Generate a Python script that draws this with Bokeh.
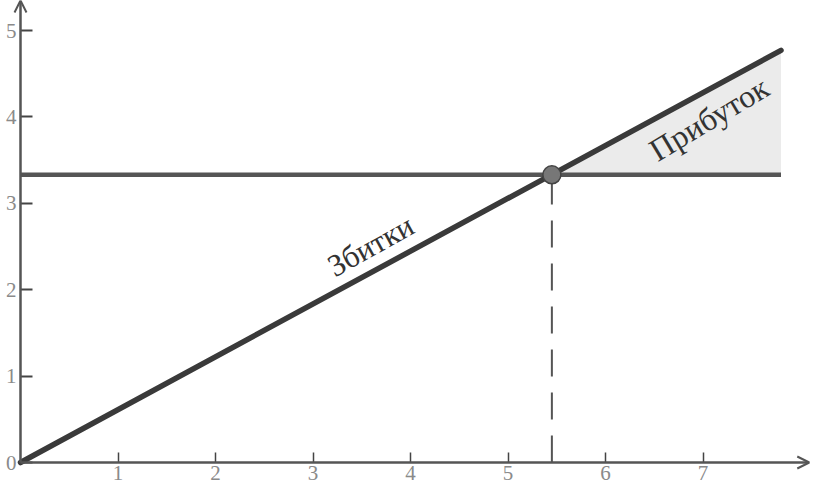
from bokeh.plotting import figure
from bokeh.models import Arrow, OpenHead, FixedTicker, Range1d
from bokeh.core.properties import value
from bokeh.embed import file_html
from bokeh.resources import INLINE

# ---- data ----
x_ticks = [1, 2, 3, 4, 5, 6, 7]
y_ticks = [0, 1, 2, 3, 4, 5]
fixed_cost = 3.33          # horizontal line level
breakeven_x = 5.45         # intersection x
x_end = 7.8                # right end of the lines
revenue_end = 4.77         # sloped line value at x_end
label_loss = "Збитки"
label_profit = "Прибуток"

W, H = 811, 484
X0, X1 = -20 / 97.5, (W - 20) / 97.5
Y0, Y1 = -(H - 462) / 86.4, 462 / 86.4

p = figure(width=W, height=H, output_backend="svg", toolbar_location=None,
           x_range=Range1d(X0, X1), y_range=Range1d(Y0, Y1),
           min_border=0, min_border_left=0, min_border_right=0,
           min_border_top=0, min_border_bottom=0)
p.outline_line_color = None
p.grid.visible = False
p.background_fill_color = "white"

# axes at the origin
for ax in (p.xaxis[0], p.yaxis[0]):
    ax.fixed_location = 0
    ax.axis_line_color = None
    ax.major_tick_out = 0
    ax.minor_tick_line_color = None
    ax.major_tick_line_color = "#444444"
    ax.major_label_text_font = "Liberation Serif"
    ax.major_label_text_font_size = "21px"
    ax.major_label_text_color = "#8a8a8a"
p.xaxis[0].ticker = FixedTicker(ticks=x_ticks)
p.xaxis[0].major_tick_in = 10
p.xaxis[0].major_tick_line_width = 1.5
p.xaxis[0].major_label_standoff = 3
p.yaxis[0].ticker = FixedTicker(ticks=y_ticks)
p.yaxis[0].major_tick_in = 12
p.yaxis[0].major_tick_line_width = 2
p.yaxis[0].major_label_standoff = 4
p.yaxis[0].major_label_orientation = "horizontal"

# profit area
p.patch([breakeven_x, x_end, x_end], [fixed_cost, revenue_end, fixed_cost],
        fill_color="#ebebeb", line_color=None)

# axis arrows
p.add_layout(Arrow(x_start=0, y_start=0, x_end=0, y_end=Y1,
                   line_color="#555555", line_width=2.5,
                   end=OpenHead(size=12, line_color="#555555", line_width=2)))
p.add_layout(Arrow(x_start=0, y_start=0, x_end=8.09, y_end=0,
                   line_color="#555555", line_width=2.5,
                   end=OpenHead(size=12, line_color="#555555", line_width=2)))

# dashed vertical line
p.segment(x0=[breakeven_x], y0=[0], x1=[breakeven_x], y1=[fixed_cost],
          line_color="#555555", line_width=2, line_dash="27 16")

# fixed cost line
p.line([0, x_end], [fixed_cost, fixed_cost], line_color="#555555", line_width=4.5)
# revenue line
p.line([0, x_end], [0, revenue_end], line_color="#3a3a3a", line_width=5.5,
       line_cap="round")

# break-even point
p.scatter([breakeven_x], [fixed_cost], size=18, fill_color="#777777",
          line_color="#444444", line_width=1.5)

# labels
p.text(x=[3.59], y=[2.51], text=[label_loss], angle=29, angle_units="deg",
       text_font=value("Liberation Serif"), text_font_size="31px",
       text_color="#333333", text_align="center", text_baseline="middle")
p.text(x=[7.06], y=[3.98], text=[label_profit], angle=31, angle_units="deg",
       text_font=value("Liberation Serif"), text_font_size="32px",
       text_color="#333333", text_align="center", text_baseline="middle")

open("out.html", "w").write(file_html(p, INLINE))
